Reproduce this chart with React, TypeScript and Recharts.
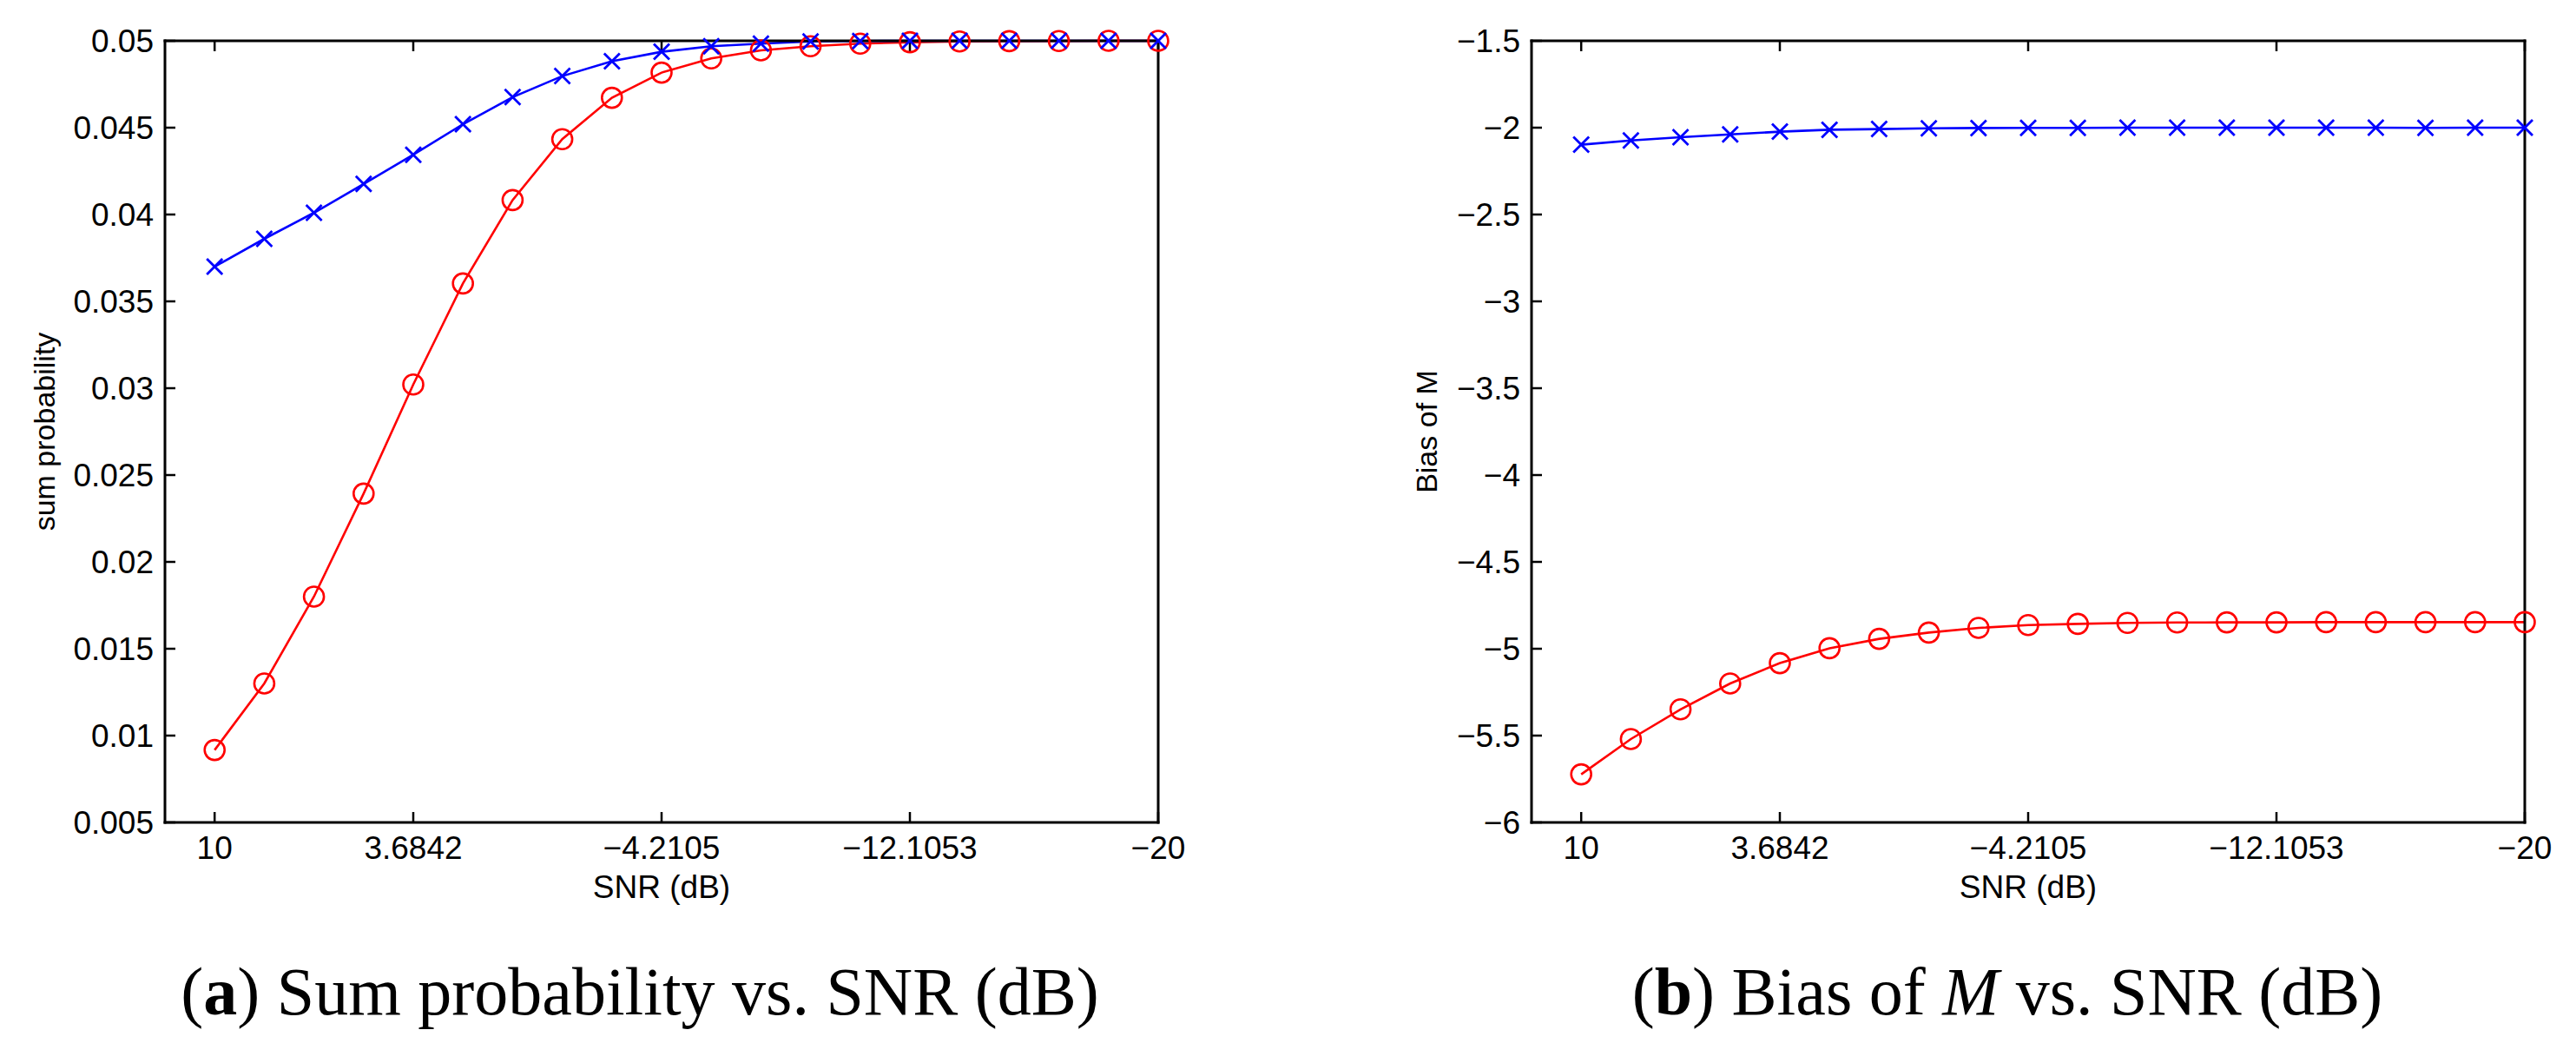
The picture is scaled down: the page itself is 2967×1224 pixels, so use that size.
import React from 'react';
import { LineChart, Line, XAxis, YAxis } from 'recharts';

// SNR (dB) sample points
const snr = [10, 8.4211, 6.8421, 5.2632, 3.6842, 2.1053, 0.5263, -1.0526, -2.6316, -4.2105,
  -5.7895, -7.3684, -8.9474, -10.5263, -12.1053, -13.6842, -15.2632, -16.8421, -18.4211, -20];

// (a) sum probability
const sumProbBlue = [0.0370, 0.0386, 0.0401, 0.04176, 0.04344, 0.0452, 0.04676, 0.04797, 0.04883, 0.04937,
  0.04969, 0.04984, 0.04996, 0.04999, 0.05, 0.05, 0.05, 0.05, 0.05, 0.05];
const sumProbRed = [0.00917, 0.0130, 0.0180, 0.02393, 0.03021, 0.03603, 0.04083, 0.04434, 0.04672, 0.04817,
  0.04899, 0.04945, 0.04969, 0.04984, 0.04992, 0.04996, 0.04998, 0.04999, 0.05, 0.05];

// (b) bias of M
const biasBlue = [-2.098, -2.074, -2.055, -2.039, -2.023, -2.012, -2.008, -2.004, -2.002, -2.001,
  -2.001, -2.0, -2.0, -2.0, -2.0, -2.0, -2.0, -2.001, -2.0, -2.0];
const biasRed = [-5.723, -5.520, -5.349, -5.200, -5.083, -4.997, -4.943, -4.907, -4.880, -4.864,
  -4.857, -4.851, -4.849, -4.848, -4.848, -4.847, -4.847, -4.847, -4.847, -4.847];

const xTicks = [10, 3.6842, -4.2105, -12.1053, -20];
const xDomain = [-20, 11.5789];
const yTicksA = [0.005, 0.01, 0.015, 0.02, 0.025, 0.03, 0.035, 0.04, 0.045, 0.05];
const yTicksB = [-6, -5.5, -5, -4.5, -4, -3.5, -3, -2.5, -2, -1.5];

const dataA = snr.map((s, i) => ({ snr: s, blue: sumProbBlue[i], red: sumProbRed[i] }));
const dataB = snr.map((s, i) => ({ snr: s, blue: biasBlue[i], red: biasRed[i] }));

const SANS = '"Liberation Sans", Arial, Helvetica, sans-serif';
const SERIF = '"Liberation Serif", "Times New Roman", serif';
const BLUE = '#0000ff';
const RED = '#ff0000';

const fmt = (v: number) => String(v).replace('-', '\u2212');
const blank = () => '';

const XMark = (props: any) => {
  const { cx, cy, index } = props;
  if (cx == null || cy == null) return <g key={`x-${index}`} />;
  const h = 9;
  return (
    <g key={`x-${index}`}>
      <line x1={cx - h} y1={cy - h} x2={cx + h} y2={cy + h} stroke={BLUE} strokeWidth={2.8} />
      <line x1={cx - h} y1={cy + h} x2={cx + h} y2={cy - h} stroke={BLUE} strokeWidth={2.8} />
    </g>
  );
};

const axisLine = { stroke: '#000', strokeWidth: 3, strokeLinecap: 'square' as const };
const tickLine = { stroke: '#000', strokeWidth: 2.5 };
const tickStyle = { fill: '#000', fontSize: 37, fontFamily: SANS };

type PanelProps = {
  data: any[];
  width: number;
  yTicks: number[];
  yDomain: number[];
  yLabel: string;
  leftMargin: number;
  yAxisWidth: number;
  labelOffset: number;
  rightMargin: number;
};

const Panel = ({ data, width, yTicks, yDomain, yLabel, leftMargin, yAxisWidth, labelOffset, rightMargin }: PanelProps) => (
  <LineChart
    width={width}
    height={1224}
    data={data}
    margin={{ top: 17, right: rightMargin, bottom: 177, left: leftMargin }}
  >
    <XAxis
      dataKey="snr"
      type="number"
      domain={xDomain}
      reversed
      ticks={xTicks}
      tickFormatter={fmt}
      height={100}
      axisLine={axisLine}
      tickLine={tickLine}
      tickSize={-12}
      tickMargin={28}
      tick={tickStyle}
      interval={0}
      label={{ value: 'SNR (dB)', position: 'insideBottom', offset: 13, fill: '#000', fontSize: 37, fontFamily: SANS }}
    />
    <XAxis
      xAxisId="top"
      orientation="top"
      dataKey="snr"
      type="number"
      domain={xDomain}
      reversed
      ticks={xTicks}
      tickFormatter={blank}
      height={30}
      axisLine={axisLine}
      tickLine={tickLine}
      tickSize={-12}
      interval={0}
    />
    <YAxis
      type="number"
      domain={yDomain}
      ticks={yTicks}
      tickFormatter={fmt}
      width={yAxisWidth}
      axisLine={axisLine}
      tickLine={tickLine}
      tickSize={-12}
      tickMargin={25}
      tick={tickStyle}
      interval={0}
      label={{
        value: yLabel,
        angle: -90,
        position: 'insideLeft',
        offset: labelOffset,
        fill: '#000',
        fontSize: 34,
        fontFamily: SANS,
        style: { textAnchor: 'middle' },
      }}
    />
    <YAxis
      yAxisId="right"
      orientation="right"
      type="number"
      domain={yDomain}
      ticks={yTicks}
      tickFormatter={blank}
      width={10}
      axisLine={axisLine}
      tickLine={tickLine}
      tickSize={-12}
      interval={0}
    />
    <Line
      type="linear"
      dataKey="red"
      stroke={RED}
      strokeWidth={2.6}
      dot={{ r: 11.5, stroke: RED, strokeWidth: 2.6, fill: 'none' }}
      activeDot={false}
      isAnimationActive={false}
    />
    <Line
      type="linear"
      dataKey="blue"
      stroke={BLUE}
      strokeWidth={2.6}
      dot={XMark}
      activeDot={false}
      isAnimationActive={false}
    />
  </LineChart>
);

export default function App() {
  return (
    <div style={{ position: 'absolute', left: 0, top: 0, width: 2967, height: 1224, background: '#fff' }}>
      <div style={{ position: 'absolute', left: 0, top: 0 }}>
        <Panel
          data={dataA}
          width={1480}
          yTicks={yTicksA}
          yDomain={[0.005, 0.05]}
          yLabel="sum probability"
          leftMargin={20}
          yAxisWidth={170}
          labelOffset={31}
          rightMargin={136}
        />
      </div>
      <div style={{ position: 'absolute', left: 1480, top: 0 }}>
        <Panel
          data={dataB}
          width={1487}
          yTicks={yTicksB}
          yDomain={[-6, -1.5]}
          yLabel="Bias of M"
          leftMargin={20}
          yAxisWidth={264}
          labelOffset={143}
          rightMargin={49}
        />
      </div>
      <svg
        width={2967}
        height={1224}
        style={{ position: 'absolute', left: 0, top: 0, pointerEvents: 'none' }}
      >
        <text x={737} y={1168} textAnchor="middle" fontFamily={SERIF} fontSize={78} fill="#000">
          (<tspan fontWeight="bold">a</tspan>) Sum probability vs. SNR (dB)
        </text>
        <text x={2312} y={1168} textAnchor="middle" fontFamily={SERIF} fontSize={78} fill="#000">
          (<tspan fontWeight="bold">b</tspan>) Bias of <tspan fontStyle="italic">M</tspan> vs. SNR (dB)
        </text>
      </svg>
    </div>
  );
}
